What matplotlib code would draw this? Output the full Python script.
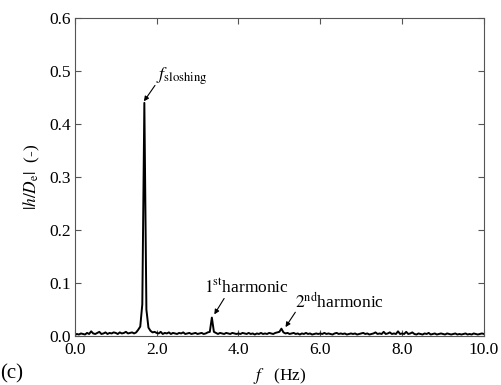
import numpy as np
import matplotlib
matplotlib.use("Agg")
import matplotlib.pyplot as plt
from matplotlib.ticker import MultipleLocator, FormatStrFormatter

plt.rcParams['font.family'] = ['Liberation Serif', 'DejaVu Serif']
plt.rcParams['mathtext.fontset'] = 'stix'

# spectrum amplitude |h/De| at 0.05 Hz steps
freq = np.arange(0, 201) * 0.05
amp = [
    0.002, 0.004, 0.003, 0.005, 0.004, 0.003, 0.006, 0.004, 0.009, 0.005,
    0.004, 0.006, 0.008, 0.004, 0.005, 0.007, 0.004, 0.006, 0.005, 0.007,
    0.006, 0.004, 0.007, 0.005, 0.006, 0.008, 0.005, 0.006, 0.007, 0.005,
    0.007, 0.012, 0.018, 0.060, 0.440, 0.050, 0.016, 0.010, 0.007, 0.008,
    0.006, 0.005, 0.008, 0.004, 0.006, 0.005, 0.007, 0.004, 0.006, 0.005,
    0.004, 0.006, 0.005, 0.007, 0.004, 0.005, 0.006, 0.004, 0.005, 0.006,
    0.004, 0.005, 0.006, 0.004, 0.005, 0.007, 0.008, 0.035, 0.008, 0.006,
    0.004, 0.006, 0.005, 0.004, 0.006, 0.005, 0.004, 0.006, 0.005, 0.004,
    0.005, 0.004, 0.006, 0.005, 0.004, 0.006, 0.004, 0.005, 0.003, 0.005,
    0.004, 0.006, 0.004, 0.005, 0.004, 0.006, 0.005, 0.004, 0.006, 0.007,
    0.008, 0.014, 0.007, 0.005, 0.006, 0.004, 0.005, 0.006, 0.004, 0.005,
    0.003, 0.005, 0.004, 0.006, 0.004, 0.005, 0.003, 0.004, 0.005, 0.004,
    0.005, 0.004, 0.006, 0.004, 0.005, 0.004, 0.003, 0.005, 0.006, 0.004,
    0.005, 0.004, 0.005, 0.003, 0.004, 0.005, 0.004, 0.005, 0.003, 0.004,
    0.005, 0.006, 0.004, 0.005, 0.003, 0.004, 0.005, 0.007, 0.004, 0.005,
    0.004, 0.008, 0.004, 0.005, 0.007, 0.004, 0.005, 0.004, 0.009, 0.004,
    0.005, 0.004, 0.008, 0.004, 0.005, 0.007, 0.004, 0.003, 0.005, 0.004,
    0.003, 0.005, 0.004, 0.006, 0.003, 0.004, 0.005, 0.003, 0.004, 0.005,
    0.004, 0.003, 0.005, 0.004, 0.003, 0.004, 0.005, 0.003, 0.004, 0.003,
    0.004, 0.005, 0.003, 0.004, 0.003, 0.005, 0.004, 0.003, 0.004, 0.005,
    0.004,
]

fig = plt.figure(figsize=(5.02, 3.85), dpi=100)
ax = fig.add_axes([0.149, 0.127, 0.815, 0.826])
ax.plot(freq, amp, color='black', lw=1.4)

ax.set_xlim(0, 10)
ax.set_ylim(0, 0.6)
ax.xaxis.set_major_locator(MultipleLocator(2))
ax.yaxis.set_major_locator(MultipleLocator(0.1))
ax.xaxis.set_major_formatter(FormatStrFormatter('%.1f'))
ax.yaxis.set_major_formatter(FormatStrFormatter('%.1f'))
ax.tick_params(direction='in', top=True, right=True, length=4, labelsize=12.5,
               color='#555555')
ax.tick_params(axis='x', pad=4)
ax.tick_params(axis='y', pad=3)
for s in ax.spines.values():
    s.set_color('#555555')

ax.set_xlabel(r'$f$   (Hz)', fontsize=12.5, labelpad=6)
ax.set_ylabel(r'$|h/D_{\rm e}|$  (-)', fontsize=12.5, labelpad=5)

arrow = dict(arrowstyle='-|>', color='black', lw=0.8, shrinkA=0, shrinkB=0,
             mutation_scale=7)
ax.annotate('', xy=(1.69, 0.443), xytext=(1.96, 0.473), arrowprops=arrow)
ax.text(1.98, 0.470, r'$f_{\rm sloshing}$', fontsize=13, ha='left', va='bottom')

ax.annotate('', xy=(3.41, 0.041), xytext=(3.65, 0.071), arrowprops=arrow)
ax.text(4.20, 0.074, r'$1^{\rm st}$harmonic', fontsize=12.5,
        ha='center', va='bottom')

ax.annotate('', xy=(5.15, 0.017), xytext=(5.39, 0.045), arrowprops=arrow)
ax.text(6.47, 0.046, r'$2^{\rm nd}$harmonic', fontsize=12.5,
        ha='center', va='bottom')

fig.text(0.0, 0.005, '(c)', fontsize=15, ha='left', va='bottom')

fig.savefig('out.png', dpi=100)
